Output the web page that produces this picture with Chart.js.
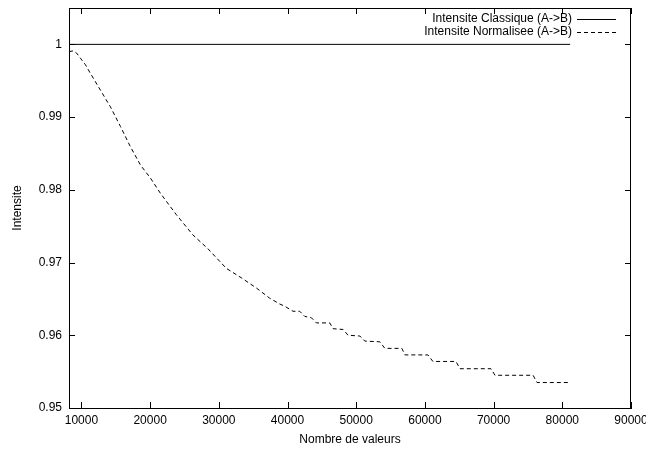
<!DOCTYPE html>
<html>
<head>
<meta charset="utf-8">
<script src="https://cdn.jsdelivr.net/npm/chart.js@4.4.0/dist/chart.umd.min.js"></script>
<style>
    html, body { margin: 0; padding: 0; background: #fff; }
</style>
</head>
<body>
<canvas id="intensiteChart" width="646" height="449"></canvas>
<script>
// Données
const valeursNormalisee = [8192, 8800, 9300, 9854, 10583, 11312, 12770, 14227, 15685, 17143, 18601, 20058,
    21516, 23805, 26224, 28411, 31093, 33280, 35466, 37405, 38863, 39592, 40802, 41778, 42507, 43484, 44213,
    46152, 46633, 48090, 48819, 50525, 51254, 53440, 54169, 56647, 57085, 60437, 61166, 64519, 65102, 69621,
    70204, 75743, 76327, 81137];
const intensiteNormalisee = [0.9990, 0.9991, 0.9988, 0.9981, 0.9972, 0.9960, 0.9937, 0.9914, 0.9887, 0.9859,
    0.9834, 0.9816, 0.9795, 0.9766, 0.9738, 0.9719, 0.9692, 0.9679, 0.9665, 0.9651, 0.9643, 0.9640, 0.9633,
    0.9633, 0.9626, 0.9624, 0.9617, 0.9617, 0.9609, 0.9608, 0.9600, 0.9599, 0.9592, 0.9591, 0.9582, 0.9582,
    0.9573, 0.9573, 0.9564, 0.9564, 0.9554, 0.9554, 0.9545, 0.9545, 0.9535, 0.9535];
const valeursClassique = [8192, 81137];
const intensiteClassique = [1, 1];

const xTicks = [10000, 20000, 30000, 40000, 50000, 60000, 70000, 80000, 90000];
const yTicks = [0.95, 0.96, 0.97, 0.98, 0.99, 1];

const police = { family: '"Liberation Sans", Arial, sans-serif', size: 12 };

// Cadre, graduations vers l'intérieur et légende façon gnuplot
const cadrePlugin = {
    id: 'cadre',
    afterDraw(chart) {
        const { ctx, chartArea: a, scales: { x, y } } = chart;
        ctx.save();
        ctx.strokeStyle = '#000';
        ctx.lineWidth = 1;
        ctx.setLineDash([]);
        ctx.strokeRect(a.left + 0.5, a.top + 0.5, a.right - a.left - 1, a.bottom - a.top);
        ctx.beginPath();
        xTicks.forEach(v => {
            const px = Math.round(x.getPixelForValue(v)) + 0.5;
            ctx.moveTo(px, a.bottom); ctx.lineTo(px, a.bottom - 6);
            ctx.moveTo(px, a.top); ctx.lineTo(px, a.top + 6);
        });
        yTicks.forEach(v => {
            const py = Math.round(y.getPixelForValue(v)) + 0.5;
            ctx.moveTo(a.left, py); ctx.lineTo(a.left + 6, py);
            ctx.moveTo(a.right, py); ctx.lineTo(a.right - 6, py);
        });
        ctx.stroke();

        // légende
        ctx.font = '12px ' + police.family;
        ctx.fillStyle = '#000';
        ctx.textAlign = 'right';
        ctx.textBaseline = 'middle';
        chart.data.datasets.forEach((ds, i) => {
            const ly = 19 + i * 13;
            ctx.fillText(ds.label, 572, ly);
            ctx.beginPath();
            ctx.setLineDash(ds.borderDash || []);
            ctx.moveTo(577, ly + 0.5);
            ctx.lineTo(616, ly + 0.5);
            ctx.stroke();
        });
        ctx.restore();
    }
};

new Chart(document.getElementById('intensiteChart').getContext('2d'), {
    type: 'line',
    data: {
        datasets: [
            {
                label: 'Intensite Classique (A->B)',
                data: valeursClassique.map((v, i) => ({ x: v, y: intensiteClassique[i] })),
                borderColor: '#000',
                borderWidth: 1,
                pointRadius: 0,
                fill: false
            },
            {
                label: 'Intensite Normalisee (A->B)',
                data: valeursNormalisee.map((v, i) => ({ x: v, y: intensiteNormalisee[i] })),
                borderColor: '#000',
                borderWidth: 1,
                borderDash: [4, 3],
                pointRadius: 0,
                fill: false,
                tension: 0
            }
        ]
    },
    options: {
        responsive: false,
        animation: false,
        layout: { padding: { top: 8, right: 15, left: 0, bottom: 0 } },
        plugins: { legend: { display: false }, tooltip: { enabled: false } },
        scales: {
            x: {
                type: 'linear',
                min: 8192,
                max: 90000,
                afterBuildTicks: s => { s.ticks = xTicks.map(v => ({ value: v })); },
                afterFit: s => { s.height = 41; s.paddingLeft = 0; s.paddingRight = 0; },
                grid: { display: false, drawTicks: false },
                border: { display: true, color: '#000', width: 1 },
                ticks: { color: '#000', font: police, padding: 5, maxRotation: 0, autoSkip: false,
                    callback: v => String(v) },
                title: { display: true, text: 'Nombre de valeurs', color: '#000', font: police,
                    padding: { top: 0, bottom: 2 } }
            },
            y: {
                type: 'linear',
                min: 0.95,
                max: 1.005,
                afterBuildTicks: s => { s.ticks = yTicks.map(v => ({ value: v })); },
                afterFit: s => { s.width = 69; s.paddingTop = 0; s.paddingBottom = 0; },
                grid: { display: false, drawTicks: false },
                border: { display: true, color: '#000', width: 1 },
                ticks: { color: '#000', font: police, padding: 7, autoSkip: false,
                    callback: v => String(Math.round(v * 100) / 100) },
                title: { display: true, text: 'Intensite', color: '#000', font: police,
                    padding: { top: 10, bottom: 0 } }
            }
        }
    },
    plugins: [cadrePlugin]
});
</script>
</body>
</html>
